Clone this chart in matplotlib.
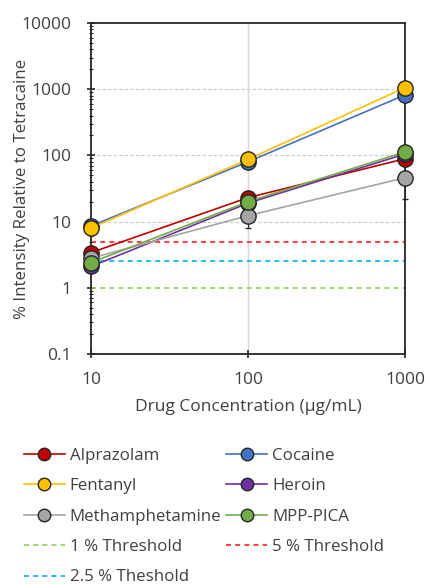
import matplotlib as mpl
mpl.use("Agg")
import matplotlib.pyplot as plt
from matplotlib.lines import Line2D
import numpy as np

plt.rcParams['font.family'] = ['Open Sans', 'DejaVu Sans']

conc = [10, 100, 1000]

drugs = ['Alprazolam', 'Cocaine', 'Fentanyl', 'Heroin', 'Methamphetamine', 'MPP-PICA']
colors = ['#C00000', '#4472C4', '#FFC000', '#7030A0', '#A5A5A5', '#70AD47']
values = {
  'Alprazolam':      [3.4, 23, 89],
  'Cocaine':         [8.6, 80, 820],
  'Fentanyl':        [8.0, 87, 1060],
  'Heroin':          [2.1, 19, 105],
  'Methamphetamine': [2.8, 12.3, 46],
  'MPP-PICA':        [2.4, 20, 113],
}
errors = {
  'Alprazolam':      [0.3, 2, 8],
  'Cocaine':         [0.5, 5, 50],
  'Fentanyl':        [0.5, 5, 60],
  'Heroin':          [0.3, 2, 10],
  'Methamphetamine': [0.4, 4.3, 24],
  'MPP-PICA':        [0.3, 2, 10],
}

thresholds = [1, 5, 2.5]
thr_labels = ['1 % Threshold', '5 % Threshold', '2.5 % Theshold']
thr_colors = ['#92D050', '#FF2020', '#00B0F0']

fig = plt.figure(figsize=(4.29, 5.85), dpi=100)
ax = fig.add_axes([91/429, 1 - 354/585, 314/429, 331/585])

txt = '#404040'
edge = '#262626'

handles = {}
for d, c in zip(drugs, colors):
  ax.errorbar(conc, values[d], yerr=errors[d], color=c, lw=1.2, marker='o', ms=11,
              mfc=c, mec=edge, mew=1.0, ecolor=edge, elinewidth=0.8,
              capsize=2.5, clip_on=False, zorder=3)
  handles[d] = Line2D([], [], color=c, lw=1.2, marker='o', ms=9, mfc=c, mec=edge, mew=1.0)

for t, lab, c in zip(thresholds, thr_labels, thr_colors):
  ax.plot([10, 1000], [t, t], linestyle=(0, (3, 2.5)), color=c, lw=1.2, zorder=2)
  handles[lab] = Line2D([], [], color=c, lw=1.2, linestyle=(0, (3, 2.5)))

ax.set_xscale('log')
ax.set_yscale('log')
ax.set_xlim(10, 1000)
ax.set_ylim(0.1, 10000)

ax.set_xticks([10, 100, 1000])
ax.set_xticklabels(['10', '100', '1000'])
ax.set_yticks([0.1, 1, 10, 100, 1000, 10000])
ax.set_yticklabels(['0.1', '1', '10', '100', '1000', '10000'])
ax.xaxis.set_minor_locator(mpl.ticker.NullLocator())

for y in [10, 100, 1000]:
  ax.axhline(y, color='#C8C8C8', lw=0.8, linestyle=(0, (3, 2)), zorder=1)
ax.axvline(100, color='#D9D9D9', lw=1.0, zorder=1)

for s in ax.spines.values():
  s.set_color(edge)
  s.set_linewidth(1.3)

ax.tick_params(axis='both', which='major', direction='inout', length=6, width=1.2,
               colors=edge, labelcolor=txt, labelsize=12.5)
ax.tick_params(axis='y', which='minor', direction='inout', length=3, width=0.8, colors=edge)
ax.tick_params(axis='x', which='major', pad=10)
ax.tick_params(axis='y', which='major', pad=11)

ax.set_xlabel('Drug Concentration (µg/mL)', fontsize=12.5, color=txt, labelpad=8)
ax.set_ylabel('% Intensity Relative to Tetracaine', fontsize=12.2, color=txt)
ax.yaxis.set_label_coords(-0.195, 0.5)

# column-major order so rows read: Alprazolam | Cocaine, Fentanyl | Heroin, ...
order = ['Alprazolam', 'Fentanyl', 'Methamphetamine', '1 % Threshold', '2.5 % Theshold',
         'Cocaine', 'Heroin', 'MPP-PICA', '5 % Threshold']
leg = fig.legend([handles[k] for k in order], order, loc='upper left',
                 bbox_to_anchor=(12/429, 1 - 436/585),
                 ncol=2, frameon=False, fontsize=12.2, handlelength=2.4,
                 handletextpad=0.3, columnspacing=0.3, labelspacing=0.85,
                 labelcolor=txt, borderpad=0.2)

fig.savefig('out.png', dpi=100)
